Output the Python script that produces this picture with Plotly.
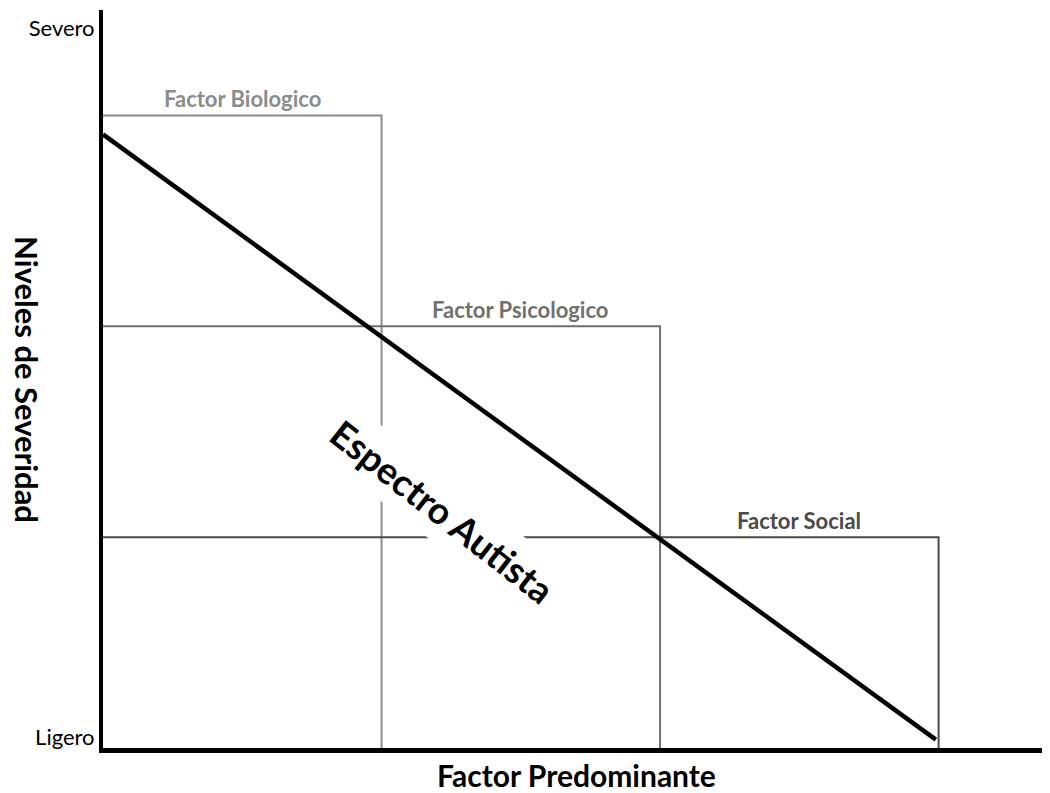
import plotly.graph_objects as go

# ---- data ----
factor_names = ["Factor Biologico", "Factor Psicologico", "Factor Social"]
factor_x_end = [1, 2, 3]          # right edge of each factor region
factor_level = [3, 2, 1]          # severity level of each factor
factor_colors = ["#8c8c8c", "#707070", "#4a4a4a"]

spectrum_x = [0, 2.99]
spectrum_y = [2.91, 0.04]

y_tick_vals = [0.052, 3.414]
y_tick_text = ["Ligero", "Severo"]

FONT = "Lato, Carlito, Calibri, sans-serif"

fig = go.Figure()

for name, xe, lv, col in zip(factor_names, factor_x_end, factor_level, factor_colors):
    fig.add_trace(go.Scatter(
        x=[0, xe, xe], y=[lv, lv, 0], mode="lines",
        line=dict(color=col, width=2), hoverinfo="skip", showlegend=False,
    ))

fig.add_trace(go.Scatter(
    x=spectrum_x, y=spectrum_y, mode="lines",
    line=dict(color="black", width=4.5), hoverinfo="skip", showlegend=False,
))

for name, xe, lv, col in zip(factor_names, factor_x_end, factor_level, factor_colors):
    fig.add_annotation(
        x=xe - 0.5, y=lv, text=name, showarrow=False, yanchor="bottom", yshift=1,
        font=dict(family=FONT, size=22, color=col, weight="bold"),
    )

fig.add_annotation(
    x=1.22, y=1.12, text="<b>Espectro Autista</b>", showarrow=False,
    textangle=38, bgcolor="white", borderpad=7,
    font=dict(family=FONT, size=37, color="black"),
)

fig.add_annotation(
    xref="paper", yref="paper", x=0, y=0.5, xshift=-76, xanchor="center",
    yanchor="middle", textangle=90, borderpad=0,
    text="<b>Niveles de Severidad</b>", showarrow=False,
    font=dict(family=FONT, size=31, color="black"),
)

fig.update_layout(
    width=1042, height=785,
    margin=dict(l=95, r=0, t=2, b=45),
    paper_bgcolor="white", plot_bgcolor="white",
    xaxis=dict(
        range=[0, 3.4], showgrid=False, zeroline=False, showticklabels=False,
        ticks="", showline=True, linecolor="black", linewidth=5,
        title=dict(text="<b>Factor Predominante</b>", standoff=15,
                   font=dict(family=FONT, size=30, color="black")),
        automargin=False,
    ),
    yaxis=dict(
        range=[0, 3.5], showgrid=False, zeroline=False,
        tickvals=y_tick_vals, ticktext=y_tick_text, ticks="",
        tickfont=dict(family=FONT, size=22, color="black"),
        showline=True, linecolor="black", linewidth=4, automargin=False,
    ),
)

fig.write_html("out.html")
